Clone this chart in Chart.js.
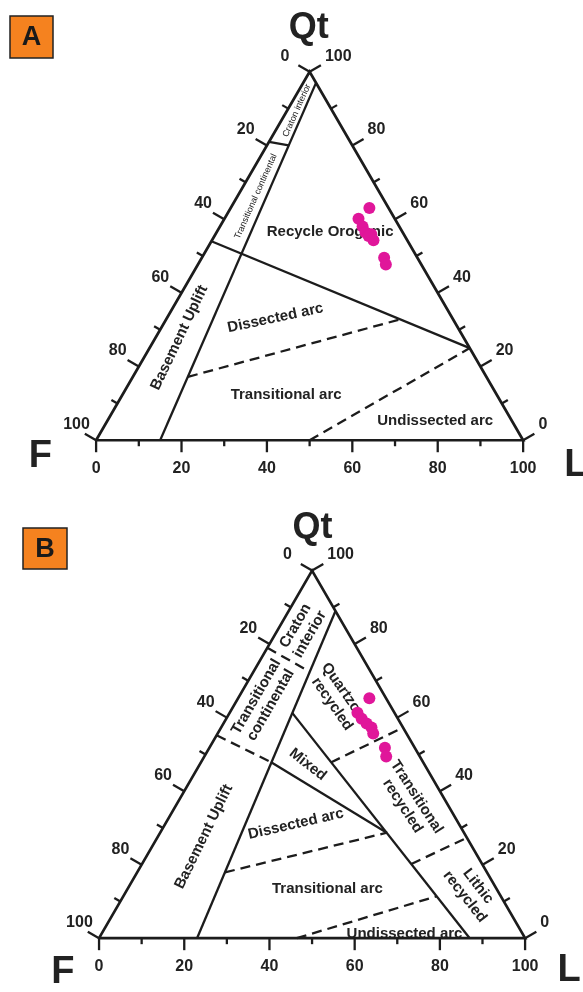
<!DOCTYPE html>
<html>
<head>
<meta charset="utf-8">
<title>QtFL provenance diagrams</title>
<script src="https://cdn.jsdelivr.net/npm/chart.js@4.4.0/dist/chart.umd.min.js"></script>
<style>
  html, body { margin: 0; padding: 0; background: #fff; }
  #wrap { position: relative; width: 583px; height: 992px; overflow: hidden; }
  canvas { position: absolute; left: 0; }
  #chartA { top: 0; }
  #chartB { top: 496px; }
</style>
</head>
<body>
<div id="wrap">
  <canvas id="chartA" width="583" height="496"></canvas>
  <canvas id="chartB" width="583" height="496"></canvas>
</div>
<script>
// ====== Data (all compositions are [Qt, F, L] in %) ======
const TICK_VALUES = [0, 10, 20, 30, 40, 50, 60, 70, 80, 90, 100];
const TICK_LABELS = [0, 20, 40, 60, 80, 100];
const CORNERS = [[100, 0, 0], [0, 100, 0], [0, 0, 100]];

// samples
const SAMPLE_QT_A = [63.0, 60.1, 58.0, 56.4, 55.9, 54.3, 55.4, 49.5, 47.7];
const SAMPLE_F_A  = [4.5, 8.5, 8.6, 8.7, 7.6, 7.9, 8.5, 7.8, 8.3];
const SAMPLE_L_A  = [32.5, 31.4, 33.4, 34.9, 36.5, 37.8, 36.1, 42.7, 44.0];

// samples
const SAMPLE_QT_B = [65.3, 61.3, 59.7, 58.4, 57.3, 55.7, 51.8, 49.4];
const SAMPLE_F_B  = [3.9, 8.7, 8.5, 8.0, 7.4, 7.8, 7.0, 7.9];
const SAMPLE_L_B  = [30.8, 30.0, 31.8, 33.6, 35.3, 36.5, 41.2, 42.7];

// field boundaries, panel A (Dickinson QtFL)
const A_SOLID = [
  [[97, 0, 3], [0, 85, 15]],          // continental block
  [[81, 19, 0], [80, 14.9, 5.1]],     // craton interior / transitional
  [[54, 46, 0], [25, 0, 75]]          // recycled orogen / magmatic arc
];
const A_DASHED = [
  [[17.2, 69.9, 12.9], [32.8, 12.4, 54.8]],  // dissected / transitional arc
  [[0, 50, 50], [25, 0, 75]]                  // transitional / undissected arc
];

// field boundaries, panel B
const B_SOLID = [
  [[89, 0, 11], [0, 77, 23]],             // continental block
  [[47.8, 35.6, 16.6], [28.7, 18.1, 53.2]], // mixed / dissected arc
  [[61.3, 24.0, 14.7], [0, 13, 87]]       // recycled orogen / arc
];
const B_DASHED = [
  [[79, 21, 0], [72.5, 14.3, 13.2]],
  [[55.2, 44.8, 0], [47.8, 35.6, 16.6]],
  [[17.9, 61.5, 20.6], [28.7, 18.1, 53.2]],
  [[0, 53.6, 46.4], [11.4, 15.1, 73.5]],
  [[47.8, 21.7, 30.5], [57.3, 0, 42.7]],
  [[20.2, 16.6, 63.2], [27.3, 0, 72.7]]
];

// ====== Text placement (diagram units: x along F-L, y up) ======
const A_TEXT = [
  { t: 'Recycle Orogenic', x: 54.8, y: 48.9, a: 0 },
  { t: 'Dissected arc', x: 42.0, y: 28.7, a: -12 },
  { t: 'Transitional arc', x: 44.5, y: 10.6, a: 0 },
  { t: 'Undissected arc', x: 79.4, y: 4.6, a: 0 },
  { t: 'Basement Uplift', x: 19.5, y: 24.1, a: -64.5 },
  { t: 'Transitional continental', x: 37.4, y: 57.3, a: -66, size: 9, w: 'normal' },
  { t: 'Craton interior', x: 47.0, y: 77.5, a: -66, size: 9, w: 'normal' }
];
const B_TEXT = [
  { t: 'Craton\ninterior', x: 47.8, y: 72.6, a: -60 },
  { t: 'Transitional\ncontinental', x: 38.6, y: 55.9, a: -60 },
  { t: 'Quartzose\nrecycled', x: 56.3, y: 56.3, a: 55 },
  { t: 'Mixed', x: 49.0, y: 40.9, a: 38 },
  { t: 'Transitional\nrecycled', x: 72.9, y: 32.2, a: 57 },
  { t: 'Lithic\nrecycled', x: 87.4, y: 11.0, a: 52 },
  { t: 'Dissected arc', x: 46.2, y: 26.9, a: -13 },
  { t: 'Transitional arc', x: 53.6, y: 11.7, a: 0 },
  { t: 'Undissected arc', x: 71.7, y: 1.1, a: 0 },
  { t: 'Basement Uplift', x: 24.6, y: 23.9, a: -64 }
];

const FONT = '"Liberation Sans", Arial, sans-serif';
const INK = '#1c1c1c';
const DOT = '#e0169a';

// ====== Helpers ======
function toXY(c) {
  // c = [Qt, F, L]
  return { x: c[2] + c[0] / 2, y: c[0] * Math.sqrt(3) / 2 };
}

function samplePoints(qt, f, l) {
  return qt.map((q, i) => toXY([q, f[i], l[i]]));
}

function lineSet(list, dashed) {
  return list.map(seg => ({
    data: seg.map(toXY),
    showLine: true,
    borderColor: INK,
    borderWidth: 2.3,
    borderDash: dashed ? [10, 6] : [],
    pointRadius: 0,
    order: 2
  }));
}

// ====== Plugin: labels, ticks, panel letter ======
const ternaryDecor = {
  id: 'ternaryDecor',
  beforeDatasetsDraw(chart, args, o) {
    const ctx = chart.ctx, sx = chart.scales.x, sy = chart.scales.y;
    ctx.save();
    ctx.fillStyle = '#222';
    ctx.textAlign = 'center';
    ctx.textBaseline = 'middle';
    o.texts.forEach(l => {
      const size = l.size || 15;
      ctx.font = `${l.w || 'bold'} ${size}px ${FONT}`;
      const lines = l.t.split('\n');
      const lh = size * 1.12;
      ctx.save();
      ctx.translate(sx.getPixelForValue(l.x), sy.getPixelForValue(l.y));
      ctx.rotate(l.a * Math.PI / 180);
      lines.forEach((s, i) => ctx.fillText(s, 0, (i - (lines.length - 1) / 2) * lh));
      ctx.restore();
    });
    ctx.restore();
  },
  afterDatasetsDraw(chart, args, o) {
    const ctx = chart.ctx, sx = chart.scales.x, sy = chart.scales.y;
    const P = c => { const p = toXY(c); return { x: sx.getPixelForValue(p.x), y: sy.getPixelForValue(p.y) }; };
    const edges = [
      { comp: v => [100 - v, v, 0], dir: [-0.866, -0.5], side: 'left' },
      { comp: v => [v, 0, 100 - v], dir: [0.866, -0.5], side: 'right' },
      { comp: v => [0, 100 - v, v], dir: [0, 1], side: 'bottom' }
    ];
    ctx.save();
    ctx.strokeStyle = INK;
    ctx.fillStyle = '#222';
    ctx.lineWidth = 2.3;
    ctx.font = `bold 16px ${FONT}`;
    ctx.textBaseline = 'middle';
    edges.forEach(e => {
      TICK_VALUES.forEach(v => {
        const major = TICK_LABELS.includes(v);
        const len = e.side === 'bottom' ? (major ? 12 : 6) : (major ? 13 : 7);
        const p = P(e.comp(v));
        const q = { x: p.x + e.dir[0] * len, y: p.y + e.dir[1] * len };
        ctx.beginPath();
        ctx.moveTo(p.x, p.y);
        ctx.lineTo(q.x, q.y);
        ctx.stroke();
        if (!major) return;
        if (e.side === 'left') {
          ctx.textAlign = 'right';
          const extra = (v === 0) ? 8 : (v === 100 ? -6 : 0);
          ctx.fillText(String(v), q.x - 1 - extra, q.y - 9);
        } else if (e.side === 'right') {
          ctx.textAlign = 'left';
          ctx.fillText(String(v), q.x + 4, q.y - 9);
        } else {
          ctx.textAlign = 'center';
          ctx.fillText(String(v), p.x, p.y + 28);
        }
      });
    });

    // corner names
    ctx.textBaseline = 'alphabetic';
    o.corners.forEach(c => {
      ctx.font = `bold ${c.size}px ${FONT}`;
      ctx.textAlign = c.align;
      ctx.fillText(c.t, sx.getPixelForValue(c.x), sy.getPixelForValue(c.y));
    });

    // panel letter box
    const b = o.box;
    ctx.fillStyle = '#f5821f';
    ctx.fillRect(b.left, b.top, b.w, b.h);
    ctx.lineWidth = 1.5;
    ctx.strokeStyle = '#222';
    ctx.strokeRect(b.left, b.top, b.w, b.h);
    ctx.fillStyle = '#1a1a1a';
    ctx.font = `bold 27px ${FONT}`;
    ctx.textAlign = 'center';
    ctx.textBaseline = 'middle';
    ctx.fillText(b.t, b.left + b.w / 2, b.top + b.h / 2 + 1);
    ctx.restore();
  }
};

// ====== Build a panel ======
function makePanel(id, cfg) {
  const frame = [CORNERS[1], CORNERS[2], CORNERS[0], CORNERS[1]];
  return new Chart(document.getElementById(id), {
    type: 'scatter',
    data: {
      datasets: [
        {
          data: cfg.samples,
          pointRadius: 6,
          pointBackgroundColor: DOT,
          pointBorderWidth: 0,
          showLine: false,
          order: 0
        },
        {
          data: frame.map(toXY),
          showLine: true,
          borderColor: INK,
          borderWidth: 2.7,
          borderJoinStyle: 'miter',
          pointRadius: 0,
          order: 1
        },
        ...lineSet(cfg.solid, false),
        ...lineSet(cfg.dashed, true)
      ]
    },
    options: {
      responsive: false,
      animation: false,
      devicePixelRatio: 1,
      layout: { padding: 0 },
      scales: {
        x: { type: 'linear', min: cfg.xRange[0], max: cfg.xRange[1], display: false },
        y: { type: 'linear', min: cfg.yRange[0], max: cfg.yRange[1], display: false }
      },
      plugins: {
        legend: { display: false },
        tooltip: { enabled: false },
        ternaryDecor: { texts: cfg.texts, corners: cfg.corners, box: cfg.box }
      }
    },
    plugins: [ternaryDecor]
  });
}

// ====== Initialize ======
makePanel('chartA', {
  samples: samplePoints(SAMPLE_QT_A, SAMPLE_F_A, SAMPLE_L_A),
  solid: A_SOLID,
  dashed: A_DASHED,
  texts: A_TEXT,
  xRange: [-92 / 4.36, 491 / 4.36],
  yRange: [-51 / 4.36, 445 / 4.36],
  corners: [
    { t: 'Qt', x: 49.8, y: 94.5, size: 36, align: 'center' },
    { t: 'F', x: -15.8, y: -6.4, size: 38, align: 'left' },
    { t: 'L', x: 109.6, y: -8.3, size: 38, align: 'left' }
  ],
  box: { t: 'A', left: 10, top: 16, w: 43, h: 42 }
});

makePanel('chartB', {
  samples: samplePoints(SAMPLE_QT_B, SAMPLE_F_B, SAMPLE_L_B),
  solid: B_SOLID,
  dashed: B_DASHED,
  texts: B_TEXT,
  xRange: [-95 / 4.35, 488 / 4.35],
  yRange: [-49 / 4.35, 447 / 4.35],
  corners: [
    { t: 'Qt', x: 50.1, y: 94.3, size: 36, align: 'center' },
    { t: 'F', x: -11.2, y: -10.6, size: 38, align: 'left' },
    { t: 'L', x: 107.6, y: -10.1, size: 38, align: 'left' }
  ],
  box: { t: 'B', left: 23, top: 32, w: 44, h: 41 }
});
</script>
</body>
</html>
